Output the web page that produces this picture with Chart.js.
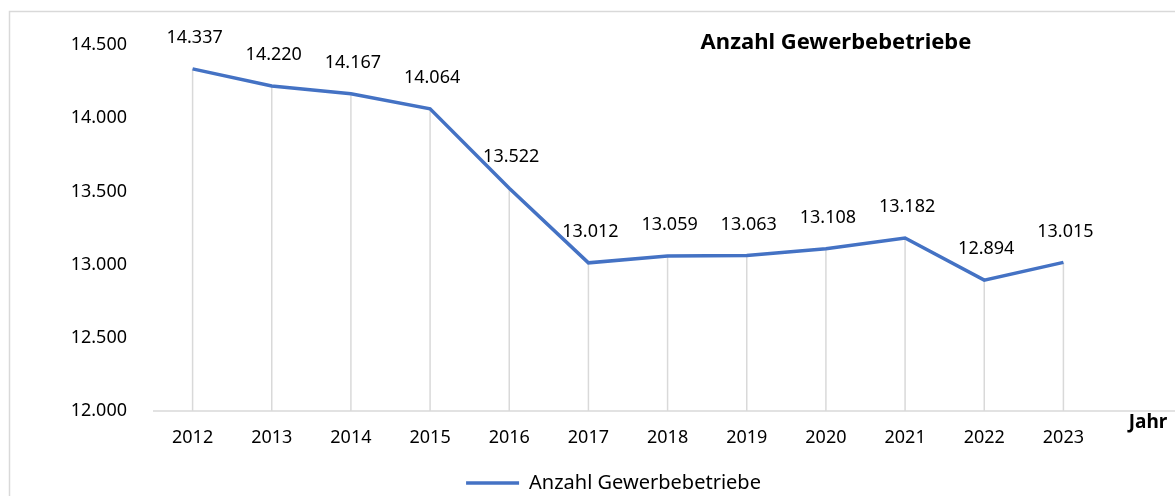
<!DOCTYPE html>
<html>
<head>
<meta charset="utf-8">
<script src="https://cdn.jsdelivr.net/npm/chart.js@4/dist/chart.umd.min.js"></script>
<style>
  html, body { margin: 0; padding: 0; background: #fff; }
  #wrap { width: 1175px; height: 496px; position: relative; }
</style>
</head>
<body>
<div id="wrap"><canvas id="gewerbeChart"></canvas></div>
<script>
// Daten
const jahre = ['2012', '2013', '2014', '2015', '2016', '2017', '2018', '2019', '2020', '2021', '2022', '2023'];
const betriebe = [14337, 14220, 14167, 14064, 13522, 13012, 13059, 13063, 13108, 13182, 12894, 13015];
const yTicks = [12000, 12500, 13000, 13500, 14000, 14500];

const FONT = "'Noto Sans', 'Open Sans', sans-serif";
const LINE_COLOR = '#4472C4';
const GRID_COLOR = '#d9d9d9';

// Tausenderpunkt wie im Original
function formatZahl(v) {
    return String(Math.round(v)).replace(/\B(?=(\d{3})+(?!\d))/g, '.');
}

// Rahmen, Lotlinien, Achse, Titel, Werte
const extras = {
    id: 'extras',
    afterLayout(chart) {
        // Legende etwas nach rechts und unten wie im Original
        const lg = chart.legend;
        lg.left += 62; lg.right += 62;
        lg.top += 8; lg.bottom += 8;
    },
    beforeDatasetsDraw(chart) {
        const ctx = chart.ctx;
        const area = chart.chartArea;
        const meta = chart.getDatasetMeta(0);
        ctx.save();
        // Rahmen
        ctx.strokeStyle = GRID_COLOR;
        ctx.lineWidth = 1.5;
        ctx.strokeRect(9.5, 11.5, 3000, 3000);
        // Lotlinien
        meta.data.forEach(pt => {
            ctx.beginPath();
            ctx.moveTo(pt.x, pt.y);
            ctx.lineTo(pt.x, area.bottom);
            ctx.stroke();
        });
        // x-Achse
        ctx.beginPath();
        ctx.moveTo(area.left, area.bottom);
        ctx.lineTo(chart.width, area.bottom);
        ctx.stroke();
        ctx.restore();
    },
    afterDatasetsDraw(chart) {
        const ctx = chart.ctx;
        const meta = chart.getDatasetMeta(0);
        ctx.save();
        ctx.fillStyle = '#000';
        ctx.textAlign = 'center';
        ctx.textBaseline = 'middle';
        ctx.font = '18px ' + FONT;
        meta.data.forEach((pt, i) => {
            ctx.fillText(formatZahl(betriebe[i]), pt.x + 2, pt.y - 31);
        });
        ctx.font = 'bold 22px ' + FONT;
        ctx.fillText('Anzahl Gewerbebetriebe', 836, 43);
        ctx.font = 'bold 19px ' + FONT;
        ctx.fillText('Jahr', 1148, 423);
        ctx.restore();
    }
};

const chart = new Chart(document.getElementById('gewerbeChart'), {
    type: 'line',
    data: {
        labels: jahre,
        datasets: [{
            label: 'Anzahl Gewerbebetriebe',
            data: betriebe,
            borderColor: LINE_COLOR,
            backgroundColor: LINE_COLOR,
            borderWidth: 3.5,
            pointRadius: 0,
            pointHoverRadius: 0,
            tension: 0
        }]
    },
    options: {
        responsive: true,
        maintainAspectRatio: false,
        animation: false,
        layout: {
            padding: { top: 45, right: 72, left: 0, bottom: 1 }
        },
        plugins: {
            tooltip: { enabled: false },
            legend: {
                position: 'bottom',
                labels: {
                    usePointStyle: true,
                    pointStyle: 'line',
                    pointStyleWidth: 53,
                    color: '#000',
                    font: { family: FONT, size: 20 },
                    padding: 6
                }
            }
        },
        scales: {
            x: {
                offset: true,
                grid: { display: false, drawTicks: false },
                border: { display: false },
                ticks: {
                    color: '#000',
                    font: { family: FONT, size: 18 },
                    padding: 16,
                    maxRotation: 0
                },
                afterFit(scale) { scale.height = 48; }
            },
            y: {
                min: 12000,
                max: 14500,
                afterBuildTicks(scale) {
                    scale.ticks = yTicks.map(v => ({ value: v }));
                },
                grid: { display: false, drawTicks: false },
                border: { display: false },
                ticks: {
                    color: '#000',
                    font: { family: FONT, size: 18 },
                    padding: 26,
                    callback: v => formatZahl(v)
                },
                afterFit(scale) { scale.width = 153; }
            }
        }
    },
    plugins: [extras]
});
</script>
</body>
</html>
